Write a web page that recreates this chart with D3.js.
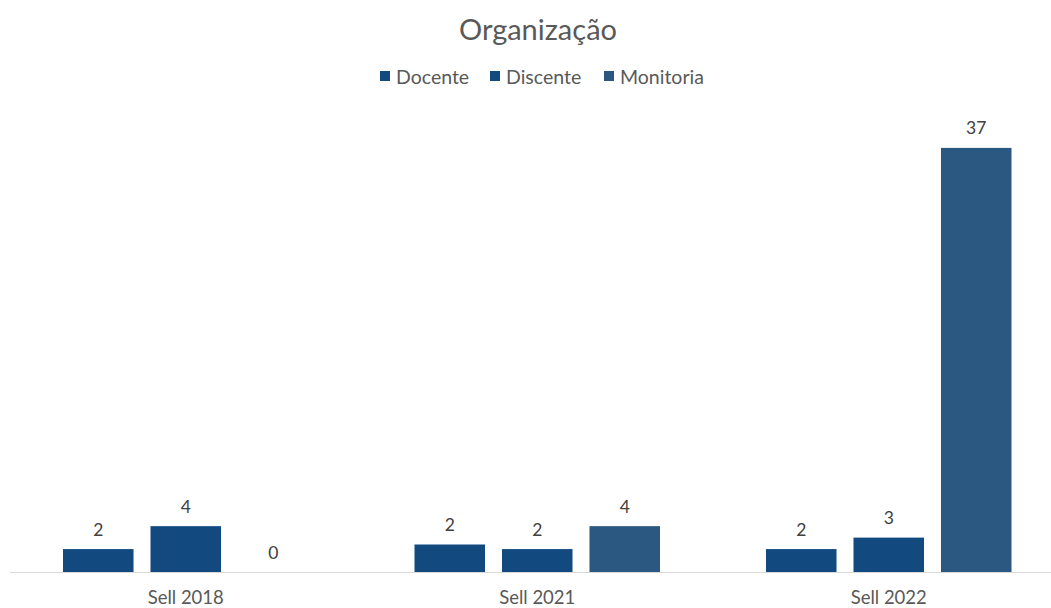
<!DOCTYPE html>
<html>
<head>
<meta charset="utf-8">
<script src="https://cdn.jsdelivr.net/npm/d3@7"></script>
<style>
  body { margin: 0; background: #fff; }
  text { font-family: Lato, "Open Sans", sans-serif; }
</style>
</head>
<body>
<svg></svg>
<script>
var width = 1051
var height = 608

var categories = ["Sell 2018", "Sell 2021", "Sell 2022"]
var seriesNames = ["Docente", "Discente", "Monitoria"]
var docente = [2, 2.4, 2]
var discente = [4, 2, 3]
var monitoria = [0, 4, 37]
var seriesColors = ["#124a80", "#124a80", "#2b5880"]

var seriesValues = [docente, discente, monitoria]

var svg = d3.select("svg")
  .attr("width", width)
  .attr("height", height)

var baseY = 572

var x0 = d3.scaleBand()
  .domain(categories)
  .range([10, 1064.5])
  .padding(0)

var x1 = d3.scaleBand()
  .domain(seriesNames)
  .range([53, x0.bandwidth() - 53])
  .paddingInner(0.194)
  .paddingOuter(0)

var y = d3.scaleLinear()
  .domain([0, 40])
  .range([baseY, 113.5])

var fmt = d3.format(".0f")

// title
svg.append("text")
  .attr("x", 538)
  .attr("y", 28)
  .attr("text-anchor", "middle")
  .attr("dominant-baseline", "central")
  .attr("font-size", 29)
  .attr("fill", "#595959")
  .text("Organização")

// legend
var legendX = [380, 490, 604]
var legend = svg.append("g")
seriesNames.forEach(function(name, i){
  legend.append("rect")
    .attr("x", legendX[i])
    .attr("y", 71)
    .attr("width", 10)
    .attr("height", 10)
    .attr("fill", seriesColors[i])
  legend.append("text")
    .attr("x", legendX[i] + 16)
    .attr("y", 76)
    .attr("dominant-baseline", "central")
    .attr("font-size", 19.5)
    .attr("fill", "#595959")
    .text(name)
})

// axis line
svg.append("line")
  .attr("x1", 10)
  .attr("x2", width)
  .attr("y1", baseY + 0.5)
  .attr("y2", baseY + 0.5)
  .attr("stroke", "#d9d9d9")
  .attr("stroke-width", 1)

// bars
var groups = svg.selectAll(".group")
  .data(categories)
  .enter()
  .append("g")
  .attr("class", "group")
  .attr("transform", function(d){ return "translate(" + x0(d) + ",0)" })

groups.selectAll("rect")
  .data(function(d, ci){
    return seriesNames.map(function(s, si){ return {s: s, si: si, v: seriesValues[si][ci]} })
  })
  .enter()
  .append("rect")
  .attr("x", function(d){ return x1(d.s) })
  .attr("y", function(d){ return y(d.v) })
  .attr("width", x1.bandwidth())
  .attr("height", function(d){ return baseY - y(d.v) })
  .attr("fill", function(d){ return seriesColors[d.si] })

groups.selectAll(".val")
  .data(function(d, ci){
    return seriesNames.map(function(s, si){ return {s: s, si: si, v: seriesValues[si][ci]} })
  })
  .enter()
  .append("text")
  .attr("class", "val")
  .attr("x", function(d){ return x1(d.s) + x1.bandwidth() / 2 })
  .attr("y", function(d){ return y(d.v) - 20 })
  .attr("text-anchor", "middle")
  .attr("dominant-baseline", "central")
  .attr("font-size", 17.5)
  .attr("fill", "#404040")
  .text(function(d){ return fmt(d.v) })

// category labels
svg.selectAll(".cat")
  .data(categories)
  .enter()
  .append("text")
  .attr("class", "cat")
  .attr("x", function(d){ return x0(d) + x0.bandwidth() / 2 })
  .attr("y", 597)
  .attr("text-anchor", "middle")
  .attr("dominant-baseline", "central")
  .attr("font-size", 18.5)
  .attr("fill", "#595959")
  .text(function(d){ return d })
</script>
</body>
</html>
